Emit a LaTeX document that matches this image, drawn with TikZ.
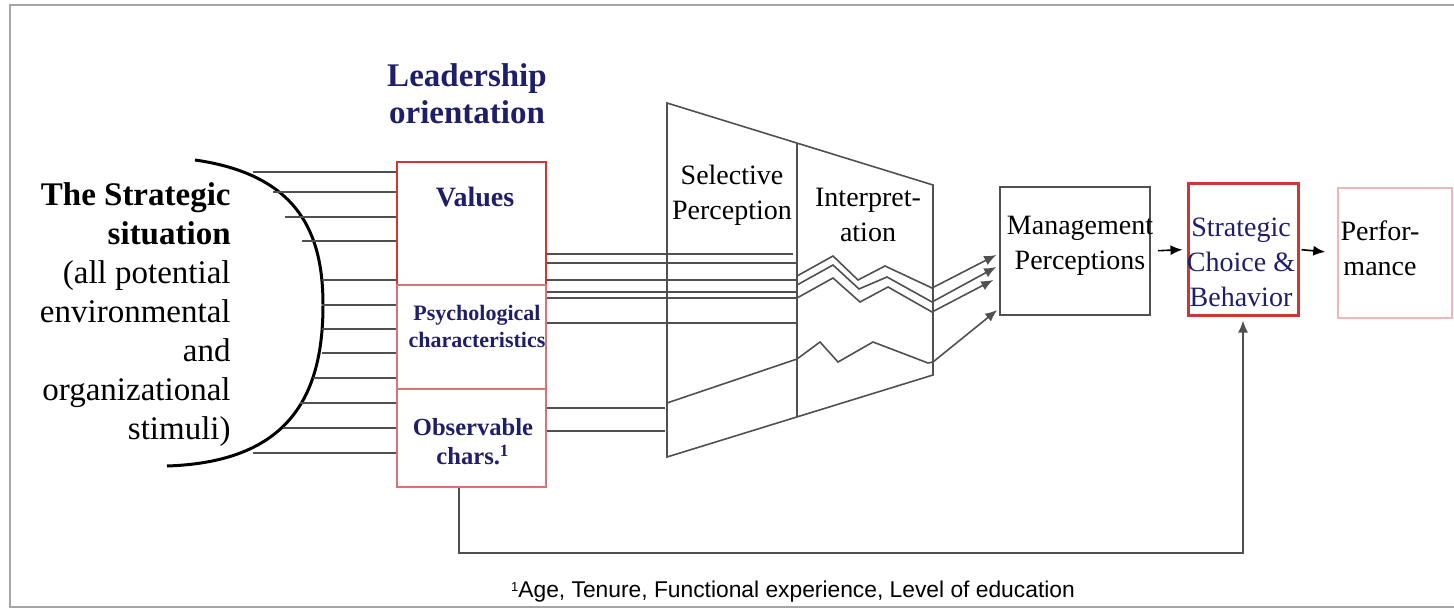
\documentclass[tikz,border=0pt]{standalone}
\usepackage{fontspec}
\setmainfont{Liberation Serif}
\newfontfamily\notefont{Liberation Sans}
\usetikzlibrary{arrows.meta}
\definecolor{navy}{RGB}{30,30,105}
\definecolor{boxred}{RGB}{205,55,55}
\definecolor{softred}{RGB}{215,115,115}
\definecolor{palered}{RGB}{235,185,185}
\definecolor{wire}{RGB}{80,80,80}
\definecolor{framegray}{RGB}{165,165,165}

\begin{document}
\begin{tikzpicture}[x=0.5pt, y=-0.5pt,
    >={Latex[length=6pt, width=5pt]},
    wire/.style={draw=wire, line width=0.8pt},
    box/.style={draw, rectangle, inner sep=0pt},
    body/.style={font=\fontsize{14}{17.5}\selectfont, align=center, inner sep=0pt},
    head/.style={font=\fontsize{16.5}{18.5}\selectfont\bfseries, text=navy, align=center, inner sep=0pt}]
  \useasboundingbox (0,0) rectangle (1454,609);
  \draw[framegray, line width=1pt] (1454,5) -- (10,5) -- (10,607) -- (1454,607);

  % the strategic situation
  \node[font=\fontsize{16.5}{19.5}\selectfont, align=right, inner sep=0pt, anchor=east] (sit) at (231,315)
    {\textbf{The Strategic}\\ \textbf{situation}\\ (all potential\\ environmental\\ and\\ organizational\\ stimuli)};
  \draw[line width=1.5pt] (195,160) .. controls (300,175) and (323,235) .. (323,305)
    .. controls (323,395) and (290,462) .. (167,466);

  % leadership orientation
  \node[head] (lead) at (467,93.5) {Leadership\\ orientation};
  \node[box, draw=boxred, line width=1.2pt, minimum width=74.5pt, minimum height=61.5pt] (vals) at (471.5,223.5) {};
  \node[box, draw=softred, line width=0.9pt, minimum width=74.5pt, minimum height=52pt] (psych) at (471.5,337) {};
  \node[box, draw=softred, line width=0.9pt, minimum width=74.5pt, minimum height=49pt] (obs) at (471.5,438) {};
  \node[font=\fontsize{14}{17}\selectfont\bfseries, text=navy, inner sep=0pt] (valstxt) at (475,197) {Values};
  \node[font=\fontsize{11}{13.5}\selectfont\bfseries, text=navy, align=center, inner sep=0pt] (psychtxt) at (477,326) {Psychological\\ characteristics};
  \node[font=\fontsize{12.3}{14.5}\selectfont\bfseries, text=navy, align=center, inner sep=0pt] (obstxt) at (473,442) {Observable\\ chars.\textsuperscript{1}};

  \foreach \y/\x in {172/253, 192/273, 217/285, 241/302, 280/322, 305/322, 329/322, 353/322, 378/313, 403/300, 428/283, 453/253}
    \draw[wire] (\x,\y) coordinate (in) -- (in -| vals.west);

  % perception filter
  \coordinate (ftl) at (667,103);
  \coordinate (ftr) at (933,185);
  \coordinate (fbr) at (933,375);
  \coordinate (fbl) at (667,457);
  \coordinate (dtop) at (797,143);
  \coordinate (dbot) at (797,417);
  \draw[wire] (ftl) -- (ftr) -- (fbr) -- (fbl) -- cycle;
  \draw[wire] (dtop) -- (dbot);
  \node[body] (sel) at (732,195) {Selective\\ Perception};
  \node[body] (interp) at (868,215) {Interpret-\\ ation};

  \foreach \y/\e in {254/793, 263/797, 280/797, 292/797, 298/797, 323/797}
    \draw[wire] (\e,\y) coordinate (out) -- (out -| vals.east);
  \foreach \y in {408, 431}
    \draw[wire] (665,\y) coordinate (out) -- (out -| obs.east);

  % management perceptions
  \node[box, draw=wire, line width=0.8pt, minimum width=75pt, minimum height=64pt] (mgmt) at (1075,251) {};
  \node[body] (mgmttxt) at (1080,246) {Management\\ Perceptions};
  \coordinate (m1) at ([shift={(-3,4)}]mgmt.west);
  \coordinate (m2) at ([shift={(-3,16)}]mgmt.west);
  \coordinate (m3) at ([shift={(-6,29)}]mgmt.west);
  \coordinate (m4) at ([shift={(-2,59)}]mgmt.west);

  \draw[wire, ->] (797,276) -- (833,256) -- (858,280) -- (885,266) -- (932,288) -- (m1);
  \draw[wire, ->] (797,285) -- (833,265) -- (859,289) -- (887,277) -- (932,302) -- (m2);
  \draw[wire, ->] (797,298) -- (833,278) -- (860,302) -- (888,287) -- (932,312) -- (m3);
  \draw[wire, ->] (667,403) -- (797,359) -- (820,342) -- (838,362) -- (873,342) -- (928,363) -- (933,362) -- (m4);

  % choice and outcome
  \node[box, draw=boxred, line width=1.5pt, minimum width=55pt, minimum height=65.5pt] (strat) at (1243,249.5) {};
  \node[body, text=navy] (strattxt) at (1241,262) {Strategic\\ Choice \&\\ Behavior};
  \node[box, draw=palered, line width=0.8pt, minimum width=57pt, minimum height=65pt] (perf) at (1395,253) {};
  \node[body] (perftxt) at (1380,248) {Perfor-\\ mance};

  \draw[black, line width=0.8pt, ->, shorten <=3.5pt, shorten >=2pt] (mgmt.east) -- (strat.west);
  \draw[black, line width=0.8pt, ->, shorten <=1pt, shorten >=6pt] (strat.east) -- (perf.west);
  \draw[wire, ->, shorten >=2pt] (obs.south -| 459,0) -- ++(0,65) -| (strat.south);

  \node[font=\notefont\fontsize{11.4}{13}\selectfont, inner sep=0pt] (note) at (793,592)
    {\raisebox{0.55ex}{\fontsize{6.5}{7}\selectfont 1}Age, Tenure, Functional experience, Level of education};
\end{tikzpicture}
\end{document}
